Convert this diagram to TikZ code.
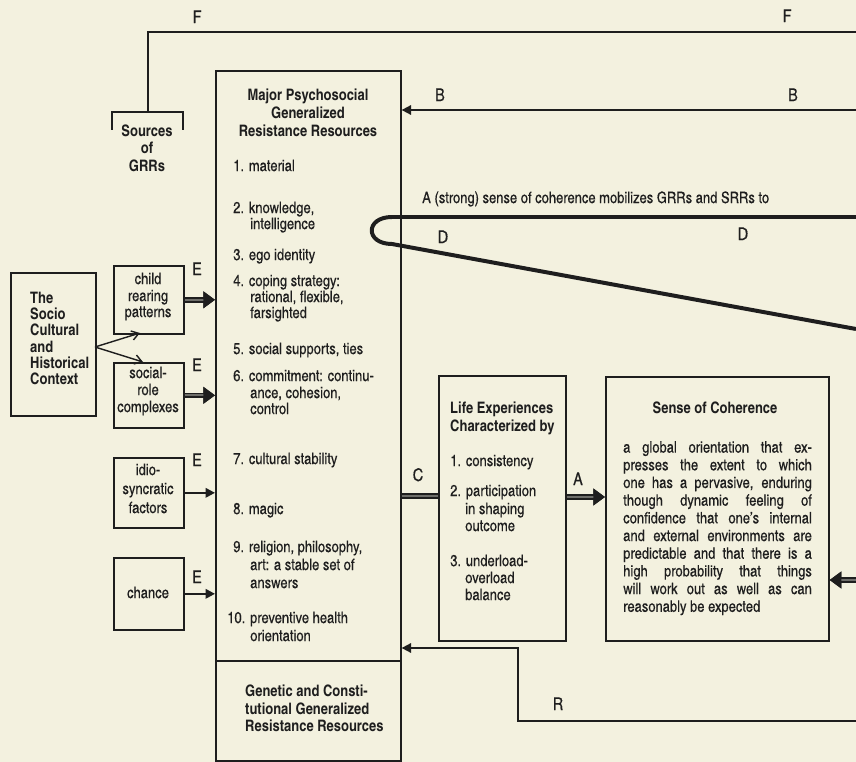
\documentclass[tikz,border=0pt]{standalone}
\usepackage{fontspec}
\setmainfont{texgyreheroscn}[Extension=.otf, UprightFont=*-regular, BoldFont=*-bold, UprightFeatures={FakeBold=0.35}]
\usetikzlibrary{arrows.meta}
\definecolor{paper}{HTML}{F3F1DF}
\definecolor{ink}{HTML}{1E1E1E}
\definecolor{shaft}{HTML}{6E6E6A}
\begin{document}
\begin{tikzpicture}[x=0.03cm, y=-0.03cm,
  box/.style={draw=ink, line width=1.4pt, inner sep=0, anchor=north west},
  t/.style={inner sep=0, anchor=mid west, text=ink, font=\fontsize{13.5}{15}\selectfont},
  tb/.style={t, font=\fontsize{13.5}{15}\selectfont\bfseries},
  tc/.style={t, anchor=mid},
  tbc/.style={tb, anchor=mid},
  lbl/.style={inner sep=0, anchor=mid, text=ink, font=\fontsize{15}{16}\selectfont},
  ln/.style={draw=ink, line width=1.6pt},
  dl/.style={draw=ink, line width=3.4pt},
  fat/.style={draw=shaft, line width=2pt, preaction={draw=ink, line width=4.8pt},
              -{Triangle[length=10pt,width=14pt,color=ink]}},
  fatline/.style={draw=shaft, line width=2pt, preaction={draw=ink, line width=4.8pt}},
  mid/.style={draw=ink, line width=1.8pt, -{Triangle[length=8pt,width=8pt]}},
  barb/.style={draw=ink, line width=1.2pt, -{Straight Barb[length=6pt,width=8pt]}},
  back/.style={draw=ink, line width=1.6pt, -{Triangle[length=8pt,width=8pt]}}]
\fill[paper] (0,0) rectangle (856,762);
\useasboundingbox (0,0) rectangle (856,762);

% boxes
\node[box, minimum width=5.55cm, minimum height=17.7cm] (main) at (215,70) {};
\node[box, minimum width=5.55cm, minimum height=3.0cm] (gen) at (215,660) {};
\node[box, minimum width=2.55cm, minimum height=4.29cm] (socio) at (10,272) {};
\node[box, minimum width=2.1cm, minimum height=2.04cm] (child) at (113,265) {};
\node[box, minimum width=2.1cm, minimum height=1.95cm] (role) at (113,362) {};
\node[box, minimum width=2.1cm, minimum height=2.1cm] (idio) at (113,457) {};
\node[box, minimum width=2.1cm, minimum height=2.16cm] (chance) at (113,557) {};
\node[box, minimum width=3.81cm, minimum height=7.95cm] (life) at (438,375) {};
\node[box, minimum width=6.69cm, minimum height=7.92cm] (soc) at (605,376) {};

% main box text
\node[tbc] (m1) at (308,97) {Major Psychosocial};
\node[tbc] (m2) at (308,115) {Generalized};
\node[tbc] (m3) at (308,133) {Resistance Resources};
\node[t] (i1) at (233,168) {1. material};
\node[t] (i2) at (233,210) {2. knowledge,};
\node[t] (i2b) at (250,226) {intelligence};
\node[t] (i3) at (233,257) {3. ego identity};
\node[t] (i4) at (233,283) {4. coping strategy:};
\node[t] (i4b) at (250,299) {rational, flexible,};
\node[t] (i4c) at (250,315) {farsighted};
\node[t] (i5) at (233,351) {5. social supports, ties};
\node[t] (i6) at (233,378) {6. commitment: continu-};
\node[t] (i6b) at (250,395) {ance, cohesion,};
\node[t] (i6c) at (250,411) {control};
\node[t] (i7) at (233,461) {7. cultural stability};
\node[t] (i8) at (233,511) {8. magic};
\node[t] (i9) at (233,549) {9. religion, philosophy,};
\node[t] (i9b) at (250,567) {art: a stable set of};
\node[t] (i9c) at (250,585) {answers};
\node[t] (i10) at (227,620) {10. preventive health};
\node[t] (i10b) at (250,638) {orientation};
\node[tb] (g1) at (245,693) {Genetic and Consti-};
\node[tb] (g2) at (245,711) {tutional Generalized};
\node[tb] (g3) at (245,728) {Resistance Resources};

% sources bracket
\coordinate (srcL) at (112,130);
\coordinate (srcR) at (183,130);
\coordinate (srcT) at (148,112);
\draw[ln] (srcL) -- (112,112) -- (183,112) -- (srcR);
\node[tbc] (s1) at (147,133) {Sources};
\node[tbc] (s2) at (147,150) {of};
\node[tbc] (s3) at (147,168) {GRRs};

% left boxes text
\node[tb] (c1) at (30,300) {The};
\node[tb] (c2) at (30,316) {Socio};
\node[tb] (c3) at (30,332) {Cultural};
\node[tb] (c4) at (30,349) {and};
\node[tb] (c5) at (30,365) {Historical};
\node[tb] (c6) at (30,381) {Context};
\node[tc] (ch1) at (148,281) {child};
\node[tc] (ch2) at (148,298) {rearing};
\node[tc] (ch3) at (148,314) {patterns};
\node[tc] (r1) at (148,375) {social-};
\node[tc] (r2) at (148,392) {role};
\node[tc] (r3) at (148,409) {complexes};
\node[tc] (d1) at (148,472) {idio-};
\node[tc] (d2) at (148,491) {syncratic};
\node[tc] (d3) at (148,510) {factors};
\node[tc] (ca) at (148,595) {chance};

% life experiences
\node[tb] (l1) at (450,410) {Life Experiences};
\node[tb] (l2) at (450,428) {Characterized by};
\node[t] (l3) at (450,463) {1. consistency};
\node[t] (l4) at (450,493) {2. participation};
\node[t] (l4b) at (465,511) {in shaping};
\node[t] (l4c) at (465,528) {outcome};
\node[t] (l5) at (450,563) {3. underload-};
\node[t] (l5b) at (465,580) {overload};
\node[t] (l5c) at (465,597) {balance};

% sense of coherence
\node[tbc] (so1) at (715,410) {Sense of Coherence};
\node[inner sep=0, anchor=north west, text=ink, text width=161pt, align=justify,
      font=\fontsize{13.5}{15.1}\selectfont] (sobody) at (623,441)
 {\tolerance=10000 a global orientation that ex-\linebreak presses the extent to which\linebreak one has a pervasive, enduring\linebreak though dynamic feeling of\linebreak confidence that one's internal\linebreak and external environments are\linebreak predictable and that there is a\linebreak high probability that things\linebreak will work out as well as can\linebreak reasonably be expected};

% sentence
\node[t] (sent) at (422,200) {A (strong) sense of coherence mobilizes GRRs and SRRs to};

% right-edge coordinates
\coordinate (fR) at (856,32);
\coordinate (bR) at (856,110);
\coordinate (dR1) at (856,217);
\coordinate (dR2) at (856,329);
\coordinate (sR) at (856,580);
\coordinate (rR) at (856,721);

% F
\draw[ln] (srcT) |- (fR);
% B
\draw[back] (bR) -- (main.east |- bR);
% D loop
\draw[dl, line join=round] (dR1) -- (392,217) .. controls (365,217) and (365,244) .. (392,244) -- (dR2);
% socio arrows
\coordinate (so) at (95,347);
\coordinate (chb) at (140,333);
\coordinate (rot) at (143,362);
\draw[barb] (so) -- (chb);
\draw[barb] (so) -- (rot);
% E arrows
\draw[fat] (child.east) -- (main.west |- child.east);
\draw[fat] (role.east) -- (main.west |- role.east);
\draw[mid] (idio.east) -- (main.west |- idio.east);
\draw[mid] (chance.east) -- (main.west |- chance.east);
% C
\draw[fatline] (main.east |- 0,496) -- (life.west |- 0,496);
% A
\draw[fat] (life.east |- 0,497) -- (soc.west |- 0,497);
% into SoC
\draw[fat] (sR) -- (soc.east |- sR);
% R
\draw[back, line join=miter] (rR) -- (518,721) -- (518,648) -- (main.east |- 0,648);

% labels
\node[lbl] (F1) at (197,20) {F};
\node[lbl] (F2) at (787,19) {F};
\node[lbl] (B1) at (440,98) {B};
\node[lbl] (B2) at (793,98) {B};
\node[lbl] (D1) at (443,240) {D};
\node[lbl] (D2) at (743,237) {D};
\node[lbl] (E1) at (197,272) {E};
\node[lbl] (E2) at (197,368) {E};
\node[lbl] (E3) at (197,463) {E};
\node[lbl] (E4) at (197,580) {E};
\node[lbl] (Cl) at (418,478) {C};
\node[lbl] (Al) at (578,482) {A};
\node[lbl] (Rl) at (558,707) {R};
\end{tikzpicture}
\end{document}
